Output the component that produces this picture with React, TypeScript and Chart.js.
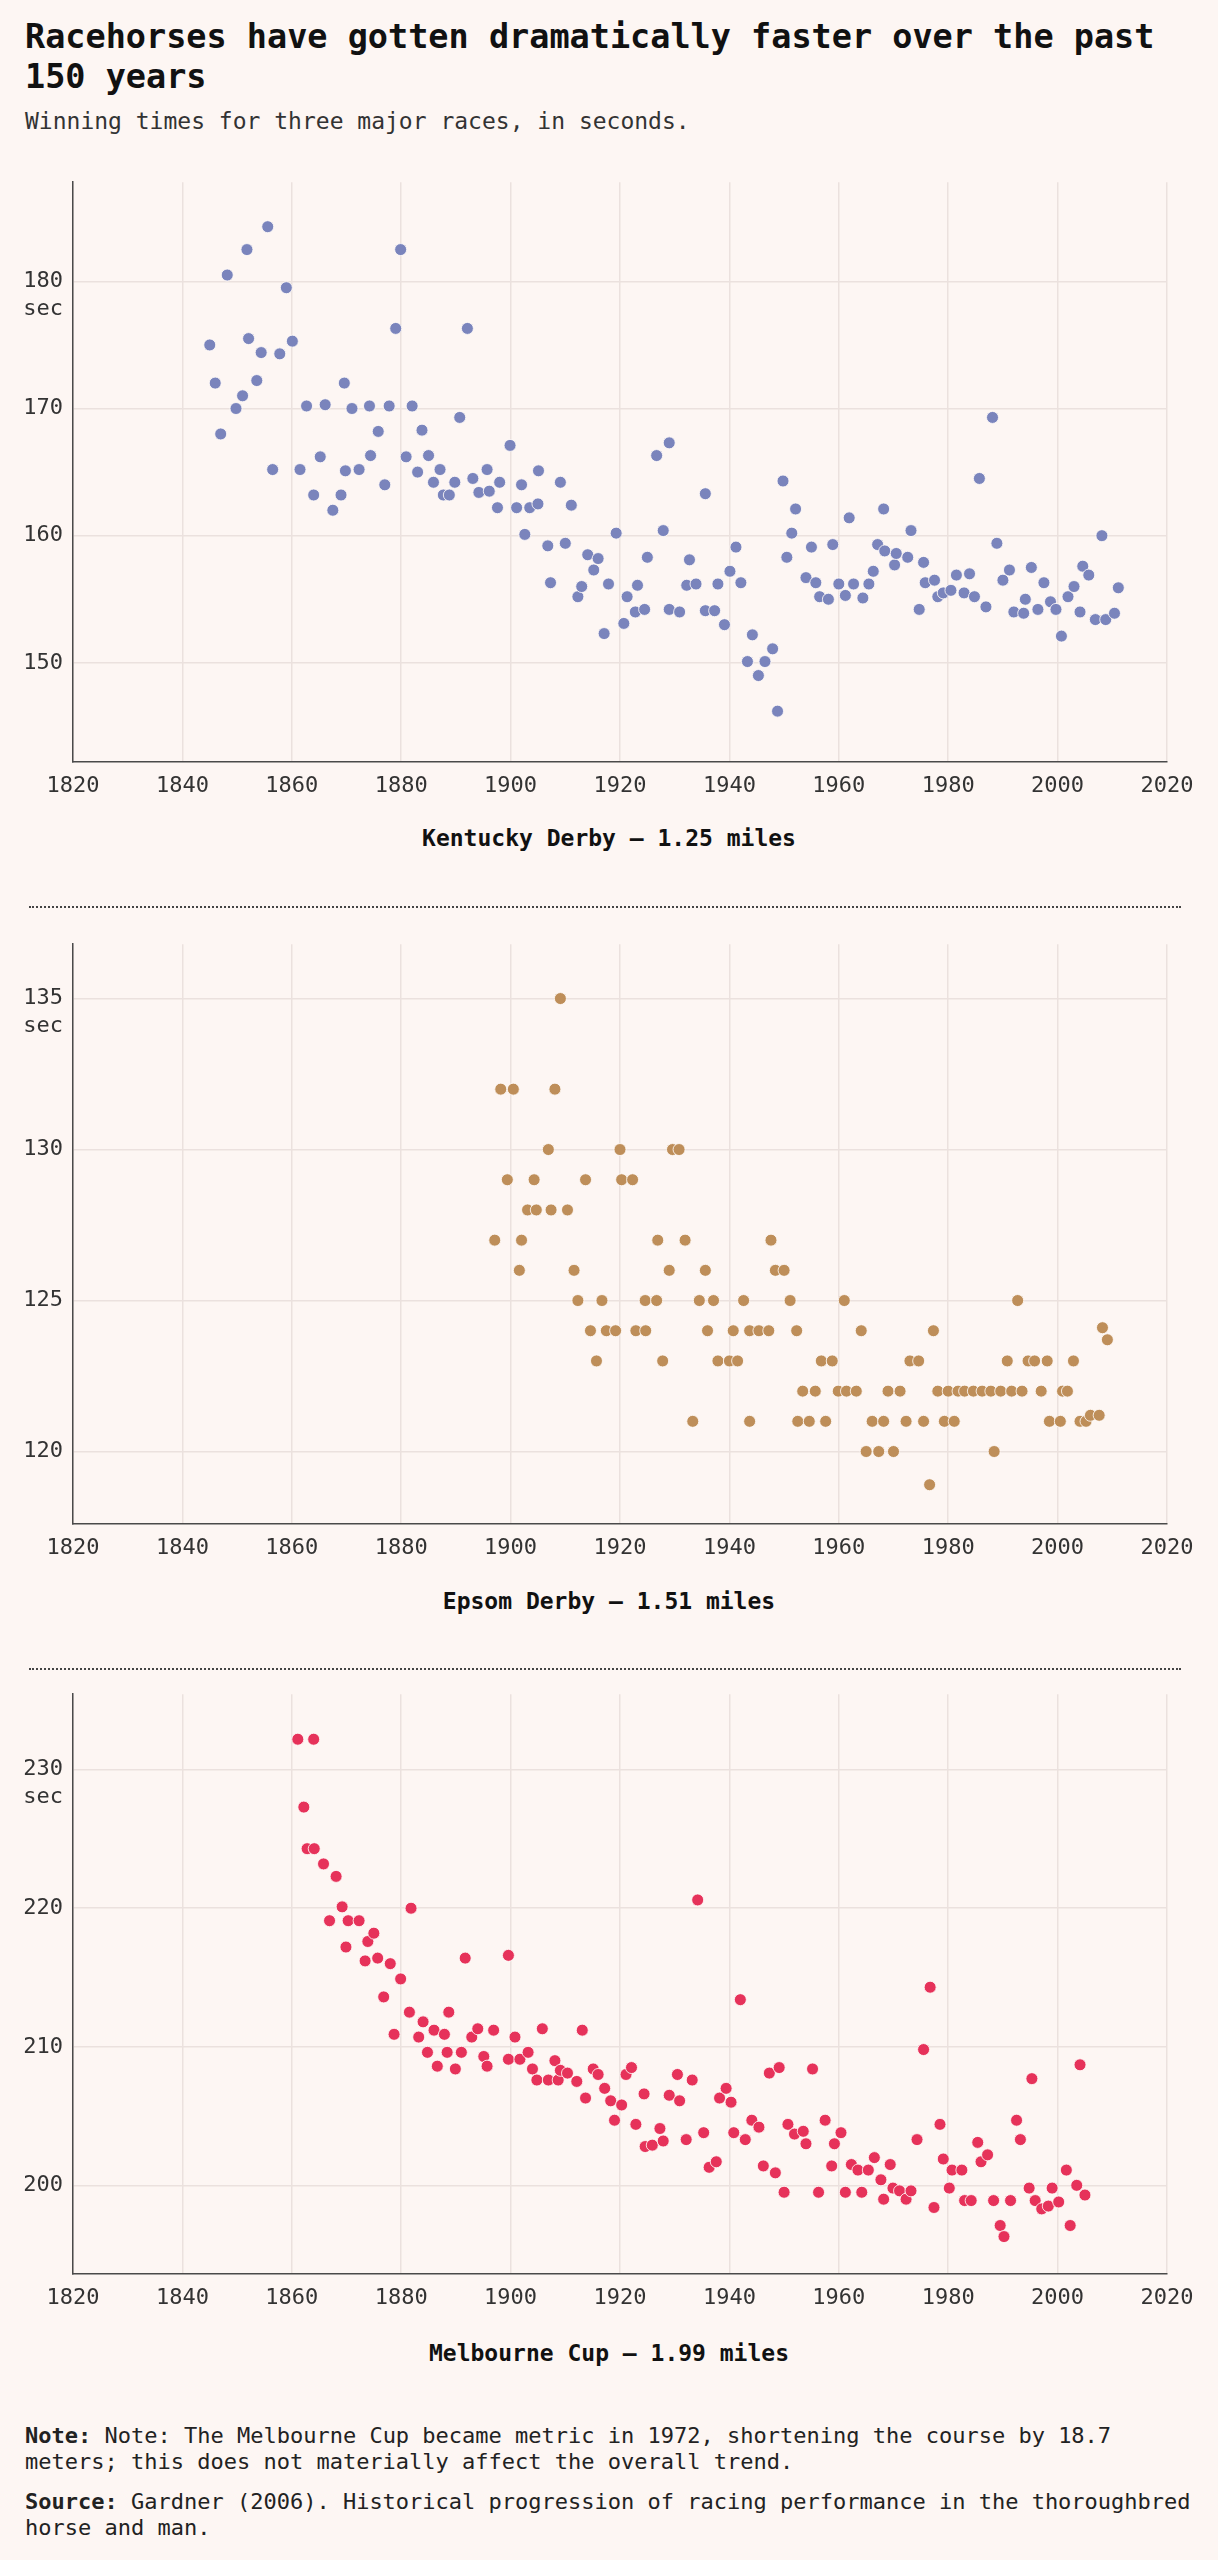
import React, { useEffect, useRef } from 'react';
import Chart from 'chart.js/auto';

// shared x axis (years)
const xTicks = [1820, 1840, 1860, 1880, 1900, 1920, 1940, 1960, 1980, 2000, 2020];

// Kentucky Derby - 1.25 miles
const kdYears = [
  1845.0, 1846.0, 1847.0, 1848.2, 1849.8, 1851.0, 1851.8, 1852.1, 1853.6, 1854.4,
  1855.6, 1856.5, 1857.8, 1859.0, 1860.1, 1861.5, 1862.7, 1864.0, 1865.2, 1866.1,
  1867.5, 1869.0, 1869.6, 1869.8, 1871.0, 1872.3, 1874.2, 1874.4, 1875.8, 1877.0,
  1877.8, 1879.0, 1879.9, 1880.9, 1882.0, 1883.0, 1883.8, 1885.0, 1885.9, 1887.1,
  1887.7, 1888.8, 1889.8, 1890.7, 1892.1, 1893.1, 1894.2, 1895.7, 1896.1, 1897.6,
  1898.0, 1899.9, 1901.1, 1902.0, 1902.6, 1903.5, 1905.0, 1905.1, 1906.8, 1907.3,
  1909.1, 1910.0, 1911.1, 1912.3, 1913.0, 1914.1, 1915.2, 1916.0, 1917.1, 1917.9,
  1919.3, 1920.7, 1921.3, 1922.8, 1923.2, 1924.5, 1925.0, 1926.7, 1927.9, 1929.0,
  1929.0, 1930.9, 1932.2, 1932.7, 1933.9, 1935.6, 1935.6, 1937.3, 1937.9, 1939.1,
  1940.1, 1941.2, 1942.1, 1943.3, 1944.2, 1945.3, 1946.5, 1947.9, 1948.8, 1949.8,
  1950.5, 1951.4, 1952.1, 1954.0, 1955.0, 1955.8, 1956.5, 1958.1, 1958.9, 1960.0,
  1961.2, 1961.9, 1962.7, 1964.4, 1965.5, 1966.3, 1967.1, 1968.2, 1968.4, 1970.2,
  1970.5, 1972.6, 1973.2, 1974.7, 1975.5, 1975.8, 1977.5, 1978.1, 1979.1, 1980.5,
  1981.5, 1982.9, 1983.9, 1984.8, 1985.7, 1986.9, 1988.1, 1988.9, 1990.0, 1991.2,
  1992.0, 1993.8, 1994.1, 1995.2, 1996.4, 1997.5, 1998.7, 1999.7, 2000.7, 2001.9,
  2003.0, 2004.1, 2004.6, 2005.7, 2006.9, 2008.1, 2008.8, 2010.4, 2011.1,
];
const kdTimes = [
  175.0, 172.0, 168.0, 180.5, 170.0, 171.0, 182.5, 175.5, 172.2, 174.4,
  184.3, 165.2, 174.3, 179.5, 175.3, 165.2, 170.2, 163.2, 166.2, 170.3,
  162.0, 163.2, 172.0, 165.1, 170.0, 165.2, 170.2, 166.3, 168.2, 164.0,
  170.2, 176.3, 182.5, 166.2, 170.2, 165.0, 168.3, 166.3, 164.2, 165.2,
  163.2, 163.2, 164.2, 169.3, 176.3, 164.5, 163.4, 165.2, 163.5, 162.2,
  164.2, 167.1, 162.2, 164.0, 160.1, 162.2, 162.5, 165.1, 159.2, 156.3,
  164.2, 159.4, 162.4, 155.2, 156.0, 158.5, 157.3, 158.2, 152.3, 156.2,
  160.2, 153.1, 155.2, 154.0, 156.1, 154.2, 158.3, 166.3, 160.4, 167.3,
  154.2, 154.0, 156.1, 158.1, 156.2, 163.3, 154.1, 154.1, 156.2, 153.0,
  157.2, 159.1, 156.3, 150.1, 152.2, 149.0, 150.1, 151.1, 146.2, 164.3,
  158.3, 160.2, 162.1, 156.7, 159.1, 156.3, 155.2, 155.0, 159.3, 156.2,
  155.3, 161.4, 156.2, 155.1, 156.2, 157.2, 159.3, 162.1, 158.8, 157.7,
  158.6, 158.3, 160.4, 154.2, 157.9, 156.3, 156.5, 155.2, 155.5, 155.7,
  156.9, 155.5, 157.0, 155.2, 164.5, 154.4, 169.3, 159.4, 156.5, 157.3,
  154.0, 153.9, 155.0, 157.5, 154.2, 156.3, 154.8, 154.2, 152.1, 155.2,
  156.0, 154.0, 157.6, 156.9, 153.4, 160.0, 153.4, 153.9, 155.9,
];
const kdTicks = [150, 160, 170, 180];

// Epsom Derby - 1.51 miles
const epYears = [
  1897.1, 1898.2, 1899.4, 1900.5, 1901.6, 1902.0, 1903.1, 1904.3, 1904.7, 1906.9,
  1907.4, 1908.1, 1909.1, 1910.4, 1911.6, 1912.3, 1913.7, 1914.6, 1915.7, 1916.7,
  1917.5, 1919.2, 1920.0, 1920.3, 1922.3, 1922.9, 1924.6, 1924.7, 1926.7, 1926.9,
  1927.8, 1929.0, 1929.6, 1930.8, 1931.9, 1933.3, 1934.5, 1935.6, 1936.0, 1937.1,
  1937.9, 1940.0, 1940.7, 1941.5, 1942.6, 1943.7, 1943.7, 1945.4, 1947.2, 1947.6,
  1948.4, 1950.0, 1951.1, 1952.3, 1952.5, 1953.4, 1954.6, 1955.7, 1956.8, 1957.6,
  1958.8, 1959.9, 1961.0, 1961.4, 1963.2, 1964.1, 1965.0, 1966.1, 1967.3, 1968.2,
  1969.0, 1970.0, 1971.2, 1972.3, 1973.0, 1974.6, 1975.5, 1976.6, 1977.3, 1978.1,
  1979.3, 1980.0, 1981.1, 1981.8, 1983.0, 1984.6, 1986.2, 1987.8, 1988.4, 1989.6,
  1990.8, 1991.6, 1992.7, 1993.5, 1994.6, 1995.8, 1997.0, 1998.1, 1998.5, 2000.5,
  2000.9, 2001.8, 2002.9, 2004.1, 2005.2, 2006.0, 2007.6, 2008.2, 2009.1,
];
const epTimes = [
  127, 132, 129, 132, 126, 127, 128, 129, 128, 130,
  128, 132, 135, 128, 126, 125, 129, 124, 123, 125,
  124, 124, 130, 129, 129, 124, 125, 124, 125, 127,
  123, 126, 130, 130, 127, 121, 125, 126, 124, 125,
  123, 123, 124, 123, 125, 124, 121, 124, 124, 127,
  126, 126, 125, 124, 121, 122, 121, 122, 123, 121,
  123, 122, 125, 122, 122, 124, 120, 121, 120, 121,
  122, 120, 122, 121, 123, 123, 121, 118.9, 124, 122,
  121, 122, 121, 122, 122, 122, 122, 122, 120, 122,
  123, 122, 125, 122, 123, 123, 122, 123, 121, 121,
  122, 122, 123, 121, 121, 121.2, 121.2, 124.1, 123.7,
];
const epTicks = [120, 125, 130, 135];

// Melbourne Cup - 1.99 miles
const mcYears = [
  1861.1, 1862.2, 1862.8, 1864.0, 1864.1, 1865.8, 1866.9, 1868.1, 1869.2, 1869.9,
  1870.3, 1872.3, 1873.4, 1873.9, 1875.0, 1875.7, 1876.8, 1878.0, 1878.7, 1879.9,
  1881.5, 1881.8, 1883.2, 1884.0, 1884.8, 1886.0, 1886.6, 1887.9, 1888.4, 1888.7,
  1889.9, 1891.0, 1891.7, 1892.9, 1894.0, 1895.1, 1895.7, 1896.9, 1899.6, 1899.6,
  1900.8, 1901.7, 1903.2, 1904.0, 1904.8, 1905.8, 1906.9, 1908.1, 1908.7, 1909.1,
  1910.4, 1912.1, 1913.1, 1913.7, 1915.1, 1916.0, 1917.2, 1918.3, 1919.0, 1920.3,
  1921.1, 1922.1, 1922.9, 1924.4, 1924.6, 1925.9, 1927.3, 1927.9, 1929.0, 1930.5,
  1930.9, 1932.1, 1933.2, 1934.2, 1935.3, 1936.3, 1937.6, 1938.2, 1939.4, 1940.3,
  1940.8, 1942.0, 1942.9, 1944.1, 1945.4, 1946.2, 1947.3, 1948.4, 1949.1, 1950.0,
  1950.7, 1951.9, 1953.5, 1954.0, 1955.2, 1956.3, 1957.5, 1958.7, 1959.2, 1960.4,
  1961.2, 1962.3, 1963.5, 1964.2, 1965.4, 1966.5, 1967.7, 1968.2, 1969.4, 1969.9,
  1971.1, 1972.3, 1973.2, 1974.3, 1975.5, 1976.7, 1977.4, 1978.5, 1979.1, 1980.2,
  1980.7, 1982.5, 1983.0, 1984.2, 1985.4, 1986.0, 1987.2, 1988.3, 1989.5, 1990.2,
  1991.4, 1992.5, 1993.2, 1994.8, 1995.3, 1995.9, 1997.1, 1998.3, 1999.0, 2000.2,
  2001.6, 2002.3, 2003.5, 2004.1, 2005.0,
];
const mcTimes = [
  232.2, 227.3, 224.3, 232.2, 224.3, 223.2, 219.1, 222.3, 220.1, 217.2,
  219.1, 219.1, 216.2, 217.6, 218.2, 216.4, 213.6, 216.0, 210.9, 214.9,
  212.5, 220.0, 210.7, 211.8, 209.6, 211.2, 208.6, 210.9, 209.6, 212.5,
  208.4, 209.6, 216.4, 210.7, 211.3, 209.3, 208.6, 211.2, 216.6, 209.1,
  210.7, 209.1, 209.6, 208.4, 207.6, 211.3, 207.6, 209.0, 207.6, 208.3,
  208.1, 207.5, 211.2, 206.3, 208.4, 208.0, 207.0, 206.1, 204.7, 205.8,
  208.0, 208.5, 204.4, 206.6, 202.8, 202.9, 204.1, 203.2, 206.5, 208.0,
  206.1, 203.3, 207.6, 220.6, 203.8, 201.3, 201.7, 206.3, 207.0, 206.0,
  203.8, 213.4, 203.3, 204.7, 204.2, 201.4, 208.1, 200.9, 208.5, 199.5,
  204.4, 203.7, 203.9, 203.0, 208.4, 199.5, 204.7, 201.4, 203.0, 203.8,
  199.5, 201.5, 201.1, 199.5, 201.1, 202.0, 200.4, 199.0, 201.5, 199.8,
  199.6, 199.0, 199.6, 203.3, 209.8, 214.3, 198.4, 204.4, 201.9, 199.8,
  201.1, 201.1, 198.9, 198.9, 203.1, 201.7, 202.2, 198.9, 197.1, 196.3,
  198.9, 204.7, 203.3, 199.8, 207.7, 198.9, 198.3, 198.5, 199.8, 198.8,
  201.1, 197.1, 200.0, 208.7, 199.3,
];
const mcTicks = [200, 210, 220, 230];

const MONO = '"DejaVu Sans Mono", "Liberation Mono", monospace';
const BG = '#FDF6F3';
const GRID = '#EBE1DE';
const AXIS = '#4a4a4a';
const TICK = '#333333';

const AREA_H = 583;
const PAD_TOP = 20;
const AXIS_H = 50;
const PAGE_W = 1218;

interface RaceChartProps {
  years: number[];
  times: number[];
  color: string;
  yMin: number;
  yMax: number;
  yTicks: number[];
  top: number;
}

const RaceChart: React.FC<RaceChartProps> = ({ years, times, color, yMin, yMax, yTicks, top }) => {
  const canvasRef = useRef<HTMLCanvasElement>(null);

  useEffect(() => {
    if (!canvasRef.current) return;
    const points = years.map((x, i) => ({ x, y: times[i] }));
    const tickFont = { family: MONO, size: 22 };

    // draws the "sec" unit under the top y tick
    const secLabel = {
      id: 'secLabel',
      afterDraw(chart: any) {
        const s = chart.scales.y;
        const ctx = chart.ctx;
        const y = s.getPixelForValue(yTicks[yTicks.length - 1]) + 28;
        ctx.save();
        ctx.font = `22px ${MONO}`;
        ctx.fillStyle = TICK;
        ctx.textAlign = 'right';
        ctx.textBaseline = 'middle';
        ctx.fillText('sec', s.right - 10, y);
        ctx.restore();
      },
    };

    const chart = new Chart(canvasRef.current, {
      type: 'scatter',
      data: {
        datasets: [{
          data: points,
          backgroundColor: color,
          borderColor: 'rgba(255,250,248,0.85)',
          borderWidth: 1,
          pointRadius: 6,
          pointHoverRadius: 6,
        }],
      },
      options: {
        animation: false,
        responsive: false,
        maintainAspectRatio: false,
        layout: { padding: { top: PAD_TOP, right: PAGE_W - 1167, left: 0, bottom: 0 } },
        plugins: { legend: { display: false }, tooltip: { enabled: false } },
        scales: {
          x: {
            type: 'linear',
            min: 1820,
            max: 2020,
            afterBuildTicks: (s: any) => { s.ticks = xTicks.map((v) => ({ value: v })); },
            afterFit: (s: any) => { s.height = AXIS_H; },
            grid: { color: GRID, lineWidth: 1.5, drawTicks: false },
            border: { display: true, color: AXIS, width: 1.5 },
            ticks: { padding: 11, font: tickFont, color: TICK, maxRotation: 0, autoSkip: false, callback: (v: any) => String(v) },
          },
          y: {
            type: 'linear',
            min: yMin,
            max: yMax,
            afterBuildTicks: (s: any) => { s.ticks = yTicks.map((v) => ({ value: v })); },
            afterFit: (s: any) => { s.width = 73; },
            grid: { color: GRID, lineWidth: 1.5, drawTicks: false },
            border: { display: true, color: AXIS, width: 1.5 },
            ticks: { padding: 10, font: tickFont, color: TICK, callback: (v: any) => String(v) },
          },
        },
      },
      plugins: [secLabel],
    });

    return () => {
      chart.destroy();
    };
  }, [years, times, color, yMin, yMax, yTicks]);

  const h = AREA_H + PAD_TOP + AXIS_H;
  return (
    <canvas
      ref={canvasRef}
      width={PAGE_W}
      height={h}
      style={{ position: 'absolute', left: 0, top: top - PAD_TOP, width: PAGE_W, height: h }}
    />
  );
};

const captionStyle = (centerY: number): React.CSSProperties => ({
  position: 'absolute',
  left: 0,
  width: PAGE_W,
  top: centerY - 14,
  lineHeight: '28px',
  textAlign: 'center',
  fontFamily: MONO,
  fontWeight: 'bold',
  fontSize: 23,
  color: '#111',
});

const sepStyle = (y: number): React.CSSProperties => ({
  position: 'absolute',
  left: 29,
  width: 1152,
  top: y - 1,
  borderTop: '2px dotted #444',
});

const noteStyle = (top: number): React.CSSProperties => ({
  position: 'absolute',
  left: 25,
  width: 1172,
  top,
  margin: 0,
  fontFamily: MONO,
  fontSize: 22,
  lineHeight: '25.5px',
  color: '#222',
});

export default function App() {
  return (
    <div style={{ position: 'relative', width: PAGE_W, height: 2560, background: BG, overflow: 'hidden' }}>
      <style>{`body{margin:0;background:${BG};}`}</style>
      <div
        style={{
          position: 'absolute', left: 25, top: 17, width: 1172,
          fontFamily: MONO, fontWeight: 'bold', fontSize: 33.5, lineHeight: '40px', color: '#111',
        }}
      >
        Racehorses have gotten dramatically faster over the past 150 years
      </div>
      <div
        style={{
          position: 'absolute', left: 25, top: 107, width: 1172,
          fontFamily: MONO, fontSize: 23, lineHeight: '28px', color: '#333',
        }}
      >
        Winning times for three major races, in seconds.
      </div>

      <RaceChart years={kdYears} times={kdTimes} color="#7A84BC" yMin={142.2} yMax={187.8} yTicks={kdTicks} top={179} />
      <div style={captionStyle(838)}>Kentucky Derby – 1.25 miles</div>
      <div style={sepStyle(907)} />

      <RaceChart years={epYears} times={epTimes} color="#BE8E59" yMin={117.6} yMax={136.8} yTicks={epTicks} top={941} />
      <div style={captionStyle(1601)}>Epsom Derby – 1.51 miles</div>
      <div style={sepStyle(1669)} />

      <RaceChart years={mcYears} times={mcTimes} color="#E6325A" yMin={193.6} yMax={235.45} yTicks={mcTicks} top={1691} />
      <div style={captionStyle(2353)}>Melbourne Cup – 1.99 miles</div>

      <p style={noteStyle(2423)}>
        <b>Note:</b> Note: The Melbourne Cup became metric in 1972, shortening the course by 18.7 meters; this does not materially affect the overall trend.
      </p>
      <p style={noteStyle(2489)}>
        <b>Source:</b> Gardner (2006). Historical progression of racing performance in the thoroughbred horse and man.
      </p>
    </div>
  );
}
